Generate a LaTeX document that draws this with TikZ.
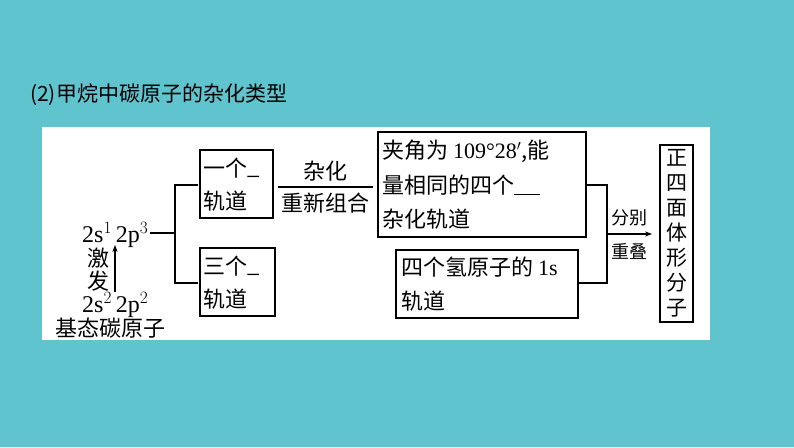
\documentclass[tikz,border=0pt]{standalone}
\usepackage{fontspec}
\setmainfont{Liberation Serif}
\newfontfamily\cjk{Noto Sans CJK SC}
\usetikzlibrary{arrows.meta}
\definecolor{teal0}{RGB}{96,196,206}
\begin{document}
\begin{tikzpicture}[x=1pt,y=-1pt,font=\fontsize{22}{26}\selectfont\cjk,
  bx/.style={draw,line width=1.3pt,inner sep=0pt},
  ln/.style={line width=1.3pt},
  t/.style={inner sep=0pt,anchor=west}]
\fill[teal0] (0,0) rectangle (794,447);
\useasboundingbox (0,0) rectangle (794,447);
\fill[white] (42,127) rectangle (710,340);
\node[t,font=\fontsize{21}{24}\selectfont\cjk] (title) at (30,95) {(2)甲烷中碳原子的杂化类型};
% boxes
\draw[bx] (200,150) rectangle (273,218);
\node[t] (b1a) at (203,168) {一个\raisebox{2pt}{\_}};
\node[t] (b1b) at (203,201) {轨道};
\draw[bx] (200,248) rectangle (275,316);
\node[t] (b2a) at (203,266) {三个\raisebox{2pt}{\_}};
\node[t] (b2b) at (203,299) {轨道};
\draw[bx] (378,132) rectangle (586,237);
\node[t] (b3a) at (382,151) {夹角为 {\rmfamily 109°28$'$},能};
\node[t] (b3b) at (382,185) {量相同的四个\rule[-2pt]{26pt}{1.3pt}};
\node[t] (b3c) at (382,219) {杂化轨道};
\draw[bx] (396,250) rectangle (578,318);
\node[t] (b4a) at (401,267) {四个氢原子的 {\rmfamily 1s}};
\node[t] (b4b) at (401,301) {轨道};
\draw[bx] (660,145) rectangle (693,322);
\node[align=center,inner sep=0pt,font=\fontsize{21}{25}\selectfont\cjk] (b5) at (676.5,233) {正\\四\\面\\体\\形\\分\\子};
% middle label
\draw[ln] (278,187) -- (373,187);
\node[inner sep=0pt] (l1) at (325,171) {杂化};
\node[inner sep=0pt] (l2) at (325,203) {重新组合};
% bracket and arrow
\draw[ln] (586,185) -- (607,185) -- (607,283) -- (578,283);
\draw[ln,-{Stealth[length=7pt]}] (607,234) -- (652,234);
\node[inner sep=0pt,font=\fontsize{18}{20}\selectfont\cjk] (l3) at (629,218) {分别};
\node[inner sep=0pt,font=\fontsize{18}{20}\selectfont\cjk] (l4) at (629,252) {重叠};
% left
\node[t,font=\fontsize{24}{26}\selectfont\rmfamily] (e1) at (82,235) {2s$^1$\,2p$^3$};
\draw[ln] (150,233) -- (175,233);
\draw[ln] (198,185) -- (175,185) -- (175,283) -- (198,283);
\draw[ln,-{Stealth[length=7pt]}] (115,292) -- (115,245);
\node[inner sep=0pt] (j1) at (98,258) {激};
\node[inner sep=0pt] (j2) at (98,281) {发};
\node[t,font=\fontsize{24}{26}\selectfont\rmfamily] (e2) at (82,305) {2s$^2$\,2p$^2$};
\node[t] (base) at (55,328) {基态碳原子};
\end{tikzpicture}
\end{document}
